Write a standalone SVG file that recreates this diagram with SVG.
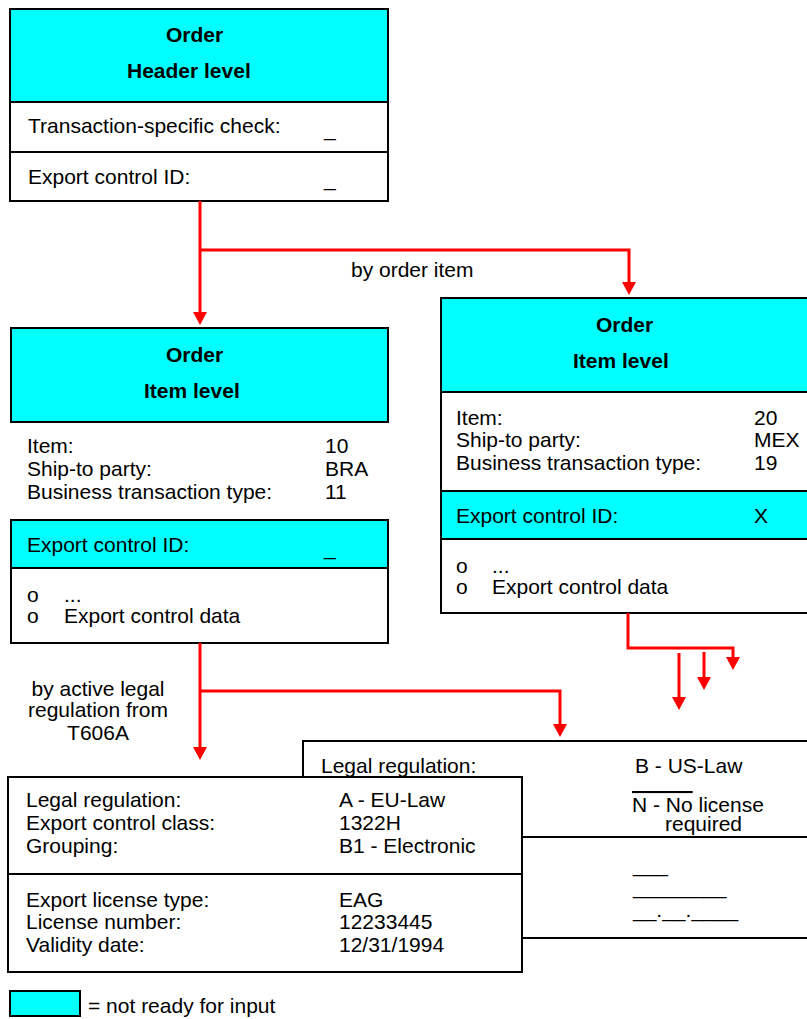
<svg xmlns="http://www.w3.org/2000/svg" width="807" height="1019" viewBox="0 0 807 1019">
<style>
.t{font-family:"Liberation Sans",Arial,sans-serif;font-size:21px;fill:#000}
.b{font-weight:bold}
.m{text-anchor:middle}
.ov{text-decoration:overline}
.ln{stroke:#000;stroke-width:2;fill:none}
.cy{fill:#00ffff;stroke:#000;stroke-width:2}
.wh{fill:#fff;stroke:#000;stroke-width:2}
.con{stroke:#ff0000;stroke-width:3;fill:none;marker-end:url(#ah)}
</style>
<defs>
<marker id="ah" markerUnits="userSpaceOnUse" markerWidth="14" markerHeight="14" viewBox="0 0 13 14" refX="0" refY="7" orient="auto">
<path d="M0,0 L13,7 L0,14 z" fill="#ff0000"/>
</marker>
</defs>
<rect width="807" height="1019" fill="#fff"/>

<g id="header">
<rect class="cy" x="10" y="9" width="378" height="93"/>
<rect class="wh" x="10" y="102" width="378" height="50"/>
<rect class="wh" x="10" y="152" width="378" height="49"/>
<text class="t b" x="166" y="42">Order</text>
<text class="t b" x="127" y="78">Header level</text>
<text class="t" x="28" y="133">Transaction-specific check:</text>
<text class="t" x="324" y="136">_</text>
<text class="t" x="28" y="184">Export control ID:</text>
<text class="t" x="324" y="186">_</text>
</g>

<g id="item10">
<rect class="cy" x="11" y="328" width="377" height="94"/>
<text class="t b" x="166" y="362">Order</text>
<text class="t b" x="144" y="398">Item level</text>
<text class="t" x="27" y="453">Item:</text>
<text class="t" x="325" y="453">10</text>
<text class="t" x="27" y="476">Ship-to party:</text>
<text class="t" x="325" y="476">BRA</text>
<text class="t" x="27" y="499">Business transaction type:</text>
<text class="t" x="325" y="499">11</text>
</g>

<g id="export10">
<rect class="cy" x="11" y="520" width="377" height="48"/>
<rect class="wh" x="11" y="568" width="377" height="75"/>
<text class="t" x="27" y="552">Export control ID:</text>
<text class="t" x="324" y="555">_</text>
<text class="t" x="27" y="602">o</text>
<text class="t" x="64" y="602">...</text>
<text class="t" x="27" y="623">o</text>
<text class="t" x="64" y="623">Export control data</text>
</g>

<g id="item20">
<rect class="cy" x="441" y="298" width="372" height="94"/>
<rect class="wh" x="441" y="392" width="372" height="99"/>
<rect class="cy" x="441" y="491" width="372" height="48"/>
<rect class="wh" x="441" y="539" width="372" height="74"/>
<text class="t b" x="596" y="332">Order</text>
<text class="t b" x="573" y="368">Item level</text>
<text class="t" x="456" y="425">Item:</text>
<text class="t" x="754" y="425">20</text>
<text class="t" x="456" y="447">Ship-to party:</text>
<text class="t" x="754" y="447">MEX</text>
<text class="t" x="456" y="470">Business transaction type:</text>
<text class="t" x="754" y="470">19</text>
<text class="t" x="456" y="523">Export control ID:</text>
<text class="t" x="754" y="523">X</text>
<text class="t" x="456" y="573">o</text>
<text class="t" x="492" y="573">...</text>
<text class="t" x="456" y="594">o</text>
<text class="t" x="492" y="594">Export control data</text>
</g>

<g id="usLaw">
<rect class="wh" x="303" y="741" width="510" height="197"/>
<line class="ln" x1="522" y1="837" x2="813" y2="837"/>
<text class="t" x="321" y="773">Legal regulation:</text>
<text class="t" x="635" y="773">B - US-Law</text>
<text class="t"><tspan x="632" y="812"><tspan class="ov">N - No</tspan> license</tspan><tspan x="665" y="831">required</tspan></text>
<text class="t" x="633" y="872">___</text>
<text class="t" x="633" y="894">________</text>
<text class="t" x="633" y="917">__.__.____</text>
</g>

<g id="euLaw">
<rect class="wh" x="8" y="777" width="514" height="195"/>
<line class="ln" x1="8" y1="874" x2="522" y2="874"/>
<text class="t" x="26" y="807">Legal regulation:</text>
<text class="t" x="339" y="807">A - EU-Law</text>
<text class="t" x="26" y="830">Export control class:</text>
<text class="t" x="339" y="830">1322H</text>
<text class="t" x="26" y="853">Grouping:</text>
<text class="t" x="339" y="853">B1 - Electronic</text>
<text class="t" x="26" y="907">Export license type:</text>
<text class="t" x="339" y="907">EAG</text>
<text class="t" x="26" y="929">License number:</text>
<text class="t" x="339" y="929">12233445</text>
<text class="t" x="26" y="952">Validity date:</text>
<text class="t" x="339" y="952">12/31/1994</text>
</g>

<g id="legend">
<rect class="cy" x="10" y="991" width="70" height="25"/>
<text class="t" x="88" y="1013">= not ready for input</text>
</g>

<g id="connectors">
<path class="con" d="M200,201 V312"/>
<path class="con" d="M200,250 H629 V282"/>
<path class="con" d="M200,643 V747"/>
<path class="con" d="M200,691 H560 V724"/>
<path class="con" d="M628,613 V648 H733 V657"/>
<path class="con" d="M679,653 V697"/>
<path class="con" d="M704,652 V677"/>
<text class="t" x="351" y="277">by order item</text>
<text class="t m" x="98" y="696">by active legal</text>
<text class="t m" x="98" y="717">regulation from</text>
<text class="t m" x="98" y="740">T606A</text>
</g>
</svg>
